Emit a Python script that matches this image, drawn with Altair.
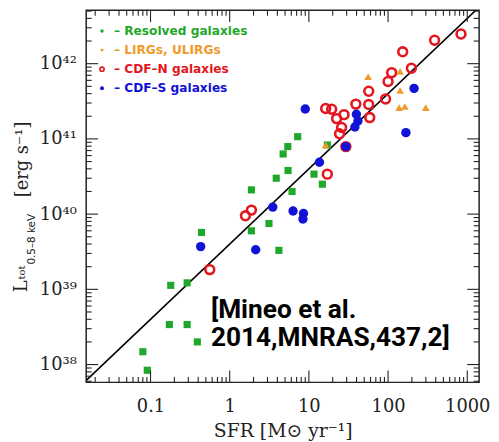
import altair as alt
import pandas as pd

# ---------------- data ----------------
resolved_sfr = [0.44, 0.18, 0.29, 0.173, 0.29, 0.39, 0.080, 0.091, 1.88, 1.88, 3.13,
                4.18, 3.87, 4.73, 5.42, 7.22, 5.46, 6.13, 11.6, 14.8, 17.1]
resolved_lx = [5.7e39, 1.13e39, 1.22e39, 3.4e38, 3.4e38, 2.0e38, 1.48e38, 8.4e37, 2.1e40,
               6.0e39, 7.5e39, 3.3e39, 3.0e40, 6.3e40, 7.9e40, 1.07e41, 3.8e40, 2.0e40,
               3.4e40, 2.5e40, 8.3e40]

lirg_sfr = [16.3, 56, 142, 142, 138, 163, 299]
lirg_lx = [8.3e40, 6.7e41, 7.9e41, 4.4e41, 2.6e41, 2.7e41, 2.6e41]

cdfn_sfr = [0.56, 1.58, 1.88, 17.1, 16.3, 19.4, 22.4, 27.8, 25.9, 24.4, 29.3, 39.2, 57, 57,
            58.7, 93, 100, 111, 153, 197, 387, 834]
cdfn_lx = [1.83e39, 9.5e39, 1.13e40, 3.4e40, 2.54e41, 2.48e41, 1.86e41, 2.1e41, 1.42e41,
           1.17e41, 7.9e40, 2.9e41, 2.86e41, 4.3e41, 1.92e41, 3.4e41, 5.8e41, 7.6e41,
           1.44e42, 8.7e41, 2.05e42, 2.48e42]

cdfs_sfr = [0.43, 2.13, 3.50, 6.31, 8.54, 8.41, 13.6, 9.0, 39.8, 41.6, 38.1, 29.3, 213, 168]
cdfs_lx = [3.7e39, 3.36e39, 1.24e40, 1.1e40, 1.02e40, 8.6e39, 4.9e40, 2.5e41, 2.13e41,
           1.73e41, 1.44e41, 7.9e40, 4.7e41, 1.21e41]

# L_X = 4e39 * SFR relation
relation_norm = 4.0e39
relation_sfr = [0.005, 3000]

legend_labels = ["–  Resolved galaxies", "–  LIRGs, ULIRGs", "–  CDF–N galaxies", "–  CDF–S galaxies"]

x_tick_values = [0.1, 1, 10, 100, 1000]
x_tick_labels = ["0.1", "1", "10", "100", "1000"]
y_tick_values = [1e38, 1e39, 1e40, 1e41, 1e42]
y_tick_labels = ["10³⁸", "10³⁹", "10⁴⁰", "10⁴¹", "10⁴²"]
minor_mult = [2, 3, 4, 5, 6, 7, 8, 9]

annotation = ["[Mineo et al.", "2014,MNRAS,437,2]"]

# ---------------- styling ----------------
GREEN = "#1fa82a"
ORANGE = "#f09a2c"
RED = "#e4161e"
BLUE = "#1212d6"
INK = "#222222"

W, H = 397, 376
x_lo, x_hi = -1.8125, 3.15
y_lo, y_hi = 37.763, 42.7105
xs = alt.Scale(type="log", domain=[10 ** x_lo, 10 ** x_hi], nice=False)
ys = alt.Scale(type="log", domain=[10 ** y_lo, 10 ** y_hi], nice=False)

x_label_expr = "[" + ",".join("'%s'" % s for s in x_tick_labels) + "][round(log(datum.value)/LN10) + 1]"
y_label_expr = "[" + ",".join("'%s'" % s for s in y_tick_labels) + "][round(log(datum.value)/LN10) - 38]"

x_axis = alt.Axis(values=x_tick_values, labelExpr=x_label_expr, ticks=False, tickSize=0,
                  domain=False, grid=False, labelFont="DejaVu Serif", labelFontSize=18,
                  labelColor=INK, labelPadding=15, labelFlush=False, title="SFR [M⊙ yr⁻¹]",
                  titleFont="DejaVu Serif", titleFontSize=19, titleFontWeight="normal",
                  titleColor=INK, titlePadding=7)
y_axis = alt.Axis(values=y_tick_values, labelExpr=y_label_expr, ticks=False, tickSize=0,
                  domain=False, grid=False, labelFont="DejaVu Serif", labelFontSize=18,
                  labelColor=INK, labelPadding=10, labelFlush=False, title="")


def X(field):
    return alt.X(field, type="quantitative", scale=xs, axis=x_axis)


def Y(field):
    return alt.Y(field, type="quantitative", scale=ys, axis=y_axis)


def series_df(sfr, lx):
    return pd.DataFrame({"sfr": sfr, "lx": lx})


layers = []

# relation line
line_df = pd.DataFrame({"sfr": relation_sfr, "lx": [relation_norm * s for s in relation_sfr]})
layers.append(alt.Chart(line_df).mark_line(color="black", strokeWidth=1.6, clip=True)
              .encode(x=X("sfr"), y=Y("lx")))

# data points
layers.append(alt.Chart(series_df(resolved_sfr, resolved_lx))
              .mark_point(shape="square", filled=True, size=52, color=GREEN, opacity=1)
              .encode(x=X("sfr"), y=Y("lx")))
layers.append(alt.Chart(series_df(cdfn_sfr, cdfn_lx))
              .mark_point(shape="circle", filled=False, size=80, color=RED, strokeWidth=2.6, opacity=1)
              .encode(x=X("sfr"), y=Y("lx")))
layers.append(alt.Chart(series_df(lirg_sfr, lirg_lx))
              .mark_point(shape="triangle-up", filled=True, size=60, color=ORANGE, opacity=1)
              .encode(x=X("sfr"), y=Y("lx")))
layers.append(alt.Chart(series_df(cdfs_sfr, cdfs_lx))
              .mark_point(shape="circle", filled=True, size=90, color=BLUE, opacity=1)
              .encode(x=X("sfr"), y=Y("lx")))


# axis ticks on all four sides (inward)
def minor(lo, hi):
    out = []
    for k in range(int(lo) - 1, int(hi) + 2):
        for m in minor_mult:
            v = m * 10.0 ** k
            if 10 ** lo < v < 10 ** hi:
                out.append(v)
    return out


x_minor = minor(x_lo, x_hi)
y_minor = minor(y_lo, y_hi)
for vals, ln in [(x_tick_values, 12), (x_minor, 5.5)]:
    d = pd.DataFrame({"v": vals})
    layers.append(alt.Chart(d).mark_rule(color=INK, strokeWidth=1.1).encode(
        x=X("v"), y=alt.value(H), y2=alt.value(H - ln)))
    layers.append(alt.Chart(d).mark_rule(color=INK, strokeWidth=1.1).encode(
        x=X("v"), y=alt.value(0), y2=alt.value(ln)))
for vals, ln in [(y_tick_values, 12), (y_minor, 5.5)]:
    d = pd.DataFrame({"v": vals})
    layers.append(alt.Chart(d).mark_rule(color=INK, strokeWidth=1.1).encode(
        y=Y("v"), x=alt.value(0), x2=alt.value(ln)))
    layers.append(alt.Chart(d).mark_rule(color=INK, strokeWidth=1.1).encode(
        y=Y("v"), x=alt.value(W), x2=alt.value(W - ln)))

# in-plot legend
leg_colors = [GREEN, ORANGE, RED, BLUE]
leg_sym = [dict(shape="circle", filled=True, size=12),
           dict(shape="circle", filled=True, size=9),
           dict(shape="circle", filled=False, size=18, strokeWidth=1.6),
           dict(shape="circle", filled=True, size=16)]
for i, (lab, col, sym) in enumerate(zip(legend_labels, leg_colors, leg_sym)):
    yy = 21 + 19.3 * i
    d = pd.DataFrame({"t": [lab]})
    layers.append(alt.Chart(d).mark_point(color=col, opacity=1, **sym).encode(
        x=alt.value(16), y=alt.value(yy)))
    layers.append(alt.Chart(d).mark_text(align="left", baseline="middle", font="DejaVu Sans",
                                         fontWeight="bold", fontSize=12.3, color=col).encode(
        text="t:N", x=alt.value(28), y=alt.value(yy)))

# y axis title, built from pieces (rotated)
ytitle = [("L", -60, 285, 18, "DejaVu Serif"),
          ("tot", -62, 272, 10, "DejaVu Serif"),
          ("0.5–8 keV", -52, 257, 10.5, "DejaVu Sans"),
          ("[erg s⁻¹]", -59, 189, 18, "DejaVu Serif")]
for txt, xx, yy, fs, fnt in ytitle:
    d = pd.DataFrame({"t": [txt]})
    layers.append(alt.Chart(d).mark_text(align="left", baseline="alphabetic", angle=270,
                                         font=fnt, fontSize=fs, color=INK).encode(
        text="t:N", x=alt.value(xx), y=alt.value(yy)))

# citation annotation
layers.append(alt.Chart(pd.DataFrame({"a": [0]})).mark_text(
    align="left", baseline="alphabetic", font="Roboto", fontWeight="bold", fontSize=26.5,
    lineHeight=28, color="black").encode(text=alt.value(annotation), x=alt.value(126), y=alt.value(311)))

chart = alt.layer(*layers).properties(
    width=W, height=H,
    autosize=alt.AutoSizeParams(type="none"),
    padding={"left": 79, "top": 0, "right": 12, "bottom": 60},
).configure_view(stroke=INK, strokeWidth=1.5)

chart.save("out.html", embed_options={"renderer": "svg", "actions": False})
